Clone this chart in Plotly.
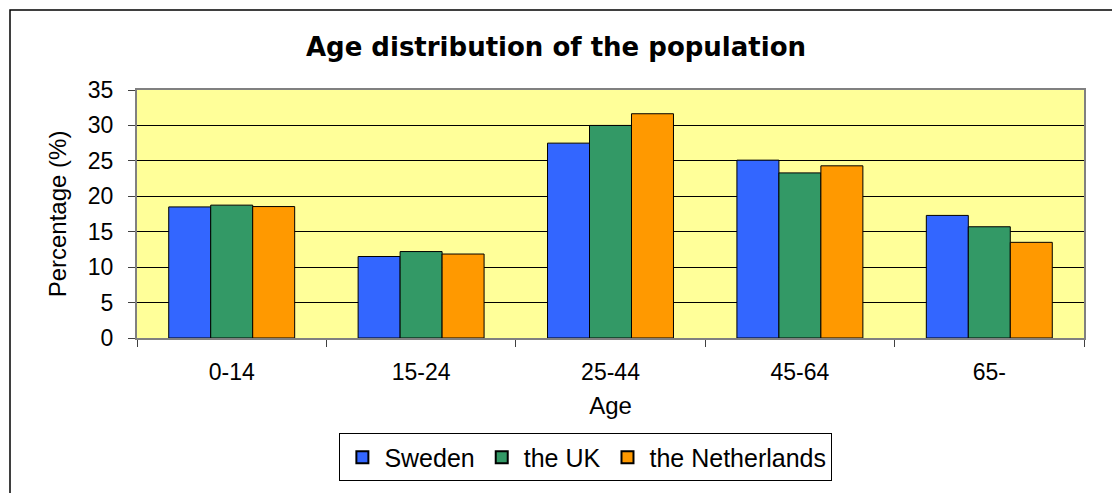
import plotly.graph_objects as go

# age groups and share of population (%) per country
age_groups = ["0-14", "15-24", "25-44", "45-64", "65-"]
sweden = [18.5, 11.5, 27.5, 25.1, 17.3]
uk = [18.75, 12.2, 30.0, 23.3, 15.7]
netherlands = [18.55, 11.85, 31.65, 24.3, 13.5]

C_SWE, C_UK, C_NL = "#3366FF", "#339966", "#FF9900"
FONT = "Liberation Sans, Arial, sans-serif"

fig = go.Figure()
for name, vals, col in [("Sweden", sweden, C_SWE),
                        ("the UK", uk, C_UK),
                        ("the Netherlands", netherlands, C_NL)]:
    fig.add_trace(go.Bar(x=age_groups, y=vals, name=name,
                         marker=dict(color=col, line=dict(color="black", width=1))))

fig.update_layout(
    width=1112, height=493,
    margin=dict(l=137, r=28, t=90, b=155),
    paper_bgcolor="white", plot_bgcolor="#FFFF99",
    font=dict(family=FONT, size=23, color="black"),
    barmode="group", bargap=0.335, bargroupgap=0,
    title=dict(text="<b>Age distribution of the population</b>",
               x=0.5, xref="container", xanchor="center",
               y=1 - 47 / 493, yref="container", yanchor="middle",
               font=dict(size=26, family="DejaVu Sans, sans-serif")),
    legend=dict(orientation="h", x=0.474, xanchor="center", y=-0.385, yanchor="top",
                bordercolor="black", borderwidth=1, bgcolor="white",
                font=dict(size=25), itemsizing="constant", traceorder="normal",
                itemwidth=34, tracegroupgap=0),
)
fig.update_xaxes(
    showline=True, linecolor="#808080", linewidth=2, mirror=True,
    ticks="outside", tickson="boundaries", ticklen=7, tickcolor="#404040",
    ticklabelstandoff=12,
    title=dict(text="Age", standoff=14, font=dict(size=24)),
    showgrid=False, automargin=False,
)
fig.update_yaxes(
    range=[0, 35], dtick=5,
    showline=True, linecolor="#808080", linewidth=2, mirror=True,
    ticks="outside", ticklen=7, tickcolor="#404040", ticklabelstandoff=10,
    showgrid=True, gridcolor="black", gridwidth=1, zeroline=False,
    title=dict(text="Percentage (%)", standoff=14, font=dict(size=24)),
    automargin=False,
)

# outer chart frame (runs off the right and bottom edges, as in the source)
fig.add_shape(type="rect", xref="paper", yref="paper",
              x0=(10 - 137) / 947, x1=(1125 - 137) / 947,
              y0=(338 - 505) / 248, y1=(338 - 10) / 248,
              line=dict(color="black", width=1.5), layer="below")

fig.write_html("out.html", config={"displayModeBar": False},
               post_script="document.body.style.margin = '0';")
